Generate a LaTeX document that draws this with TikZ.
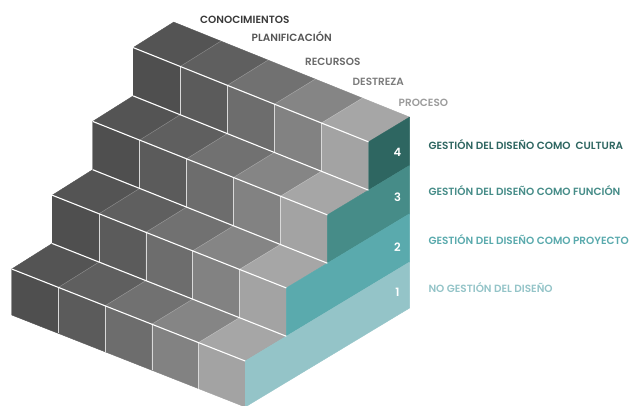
\documentclass[tikz,border=0pt]{standalone}
\usepackage{fontspec}
\setmainfont{Poppins}
\newfontfamily\lblfont{Poppins SemiBold}
\definecolor{f0}{HTML}{4F4F4F}
\definecolor{f1}{HTML}{5B5B5B}
\definecolor{f2}{HTML}{6D6D6D}
\definecolor{f3}{HTML}{828282}
\definecolor{f4}{HTML}{A3A3A3}
\definecolor{t0}{HTML}{545454}
\definecolor{t1}{HTML}{5F5F5F}
\definecolor{t2}{HTML}{717171}
\definecolor{t3}{HTML}{858585}
\definecolor{t4}{HTML}{A6A6A6}
\definecolor{b4}{HTML}{2E6661}
\definecolor{b3}{HTML}{468C88}
\definecolor{b2}{HTML}{5AAAAD}
\definecolor{b1}{HTML}{94C4C8}
\definecolor{g1}{HTML}{3A3A3A}
\definecolor{g2}{HTML}{565656}
\definecolor{g3}{HTML}{6A6A6A}
\definecolor{g4}{HTML}{7C7C7C}
\definecolor{g5}{HTML}{9C9C9C}
\begin{document}
\begin{tikzpicture}[x=1pt,y=-1pt,
  face/.style={fill=#1,draw=#1,line width=0.4pt,line join=round},
  divline/.style={draw=white!70!gray,line width=0.45pt},
  topdiv/.style={draw=white,draw opacity=0.25,line width=0.5pt},
  wline/.style={draw=white,line width=1.1pt},
  lbl/.style={font=\lblfont\fontsize{10.45}{12}\selectfont,inner sep=0pt,anchor=base west},
  num/.style={font=\lblfont\fontsize{11.5}{13}\selectfont,text=white,inner sep=0pt,anchor=base}]
\useasboundingbox (0,0) rectangle (632,405);
\clip (0,0) rectangle (632,405);
% grid of corner points p-i-d-h
\foreach \i in {0,...,5}{
  \foreach \d in {0,...,4}{
    \foreach \h in {0,...,4}{
      \pgfmathsetmacro\X{11.7+(46.7+0.12*\d)*\i+40.5*\d}
      \pgfmathsetmacro\Y{269+(18.4+0.15*\d)*\i-25.5*\d-((\h==0) ? -46 : 48.3*(\h-1))}
      \coordinate (p-\i-\d-\h) at (\X,\Y);
    }}}
% faces of the steps
\foreach \k in {4,3,2,1}{
  \pgfmathtruncatemacro\dd{\k-1}
  \foreach \c/\fc/\tc in {0/f0/t0,1/f1/t1,2/f2/t2,3/f3/t3,4/f4/t4}{
    \pgfmathtruncatemacro\cc{\c+1}
    \path[face=\fc] (p-\c-\dd-\dd) -- (p-\cc-\dd-\dd) -- (p-\cc-\dd-\k) -- (p-\c-\dd-\k) -- cycle;
    \path[face=\tc] (p-\c-\dd-\k) -- (p-\cc-\dd-\k) -- (p-\cc-\k-\k) -- (p-\c-\k-\k) -- cycle;
  }
  \path[face=b\k] (p-5-\dd-\dd) -- (p-5-4-\dd) -- (p-5-4-\k) -- (p-5-\dd-\k) -- cycle;
}
% edges
\foreach \k in {1,2,3,4}{
  \pgfmathtruncatemacro\dd{\k-1}
  \foreach \c in {1,2,3,4}{
    \draw[divline] (p-\c-\dd-\dd) -- (p-\c-\dd-\k);
    \draw[topdiv] (p-\c-\dd-\k) -- (p-\c-\k-\k);
  }
  \draw[wline] (p-0-\dd-\k) -- (p-5-\dd-\k);
}
\foreach \k in {1,2,3}{
  \draw[wline] (p-0-\k-\k) -- (p-5-\k-\k);
}
% top labels
\node[lbl,text=g1] (l1) at (200,23) {CONOCIMIENTOS};
\node[lbl,text=g2] (l2) at (251.5,41.7) {PLANIFICACIÓN};
\node[lbl,text=g3] (l3) at (305,65) {RECURSOS};
\node[lbl,text=g4] (l4) at (352.5,85) {DESTREZA};
\node[lbl,text=g5] (l5) at (398.5,106) {PROCESO};
% right labels
\node[lbl,text=b4] (r4) at (428.3,149.5) {GESTIÓN DEL DISEÑO COMO\ \ CULTURA};
\node[lbl,text=b3] (r3) at (428.3,195) {GESTIÓN DEL DISEÑO COMO FUNCIÓN};
\node[lbl,text=b2] (r2) at (428.3,244) {GESTIÓN DEL DISEÑO COMO PROYECTO};
\node[lbl,text=b1] (r1) at (428.3,292.5) {NO GESTIÓN DEL DISEÑO};
% numbers
\node[num] (n4) at (397.5,156) {4};
\node[num] (n3) at (397.5,201.7) {3};
\node[num] (n2) at (397.5,251.7) {2};
\node[num] (n1) at (397.5,296.7) {1};
\end{tikzpicture}
\end{document}
